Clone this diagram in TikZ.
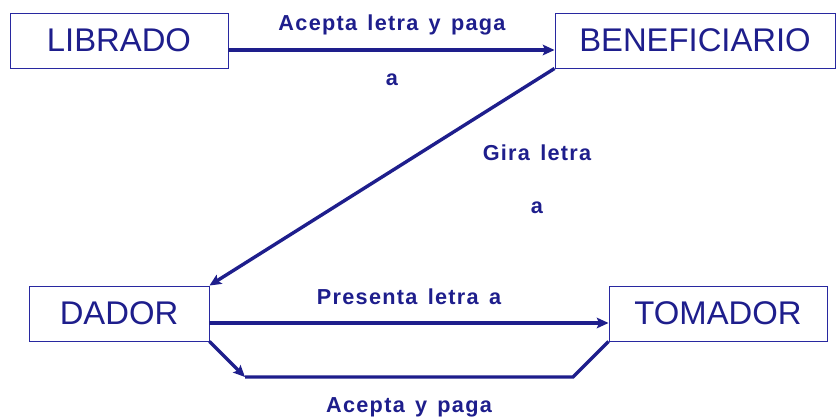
\documentclass[tikz,border=0pt]{standalone}
\usepackage{fontspec}
\setmainfont{Liberation Sans}
\newfontfamily\lblfont[LetterSpace=6,WordSpace=1.4]{Liberation Sans}
\usetikzlibrary{arrows.meta}
\definecolor{navy}{RGB}{30,30,140}
\definecolor{frame}{RGB}{40,40,160}
\tikzset{
  party/.style={draw=frame, line width=0.8pt, fill=white, text=navy,
    minimum height=1.65cm, inner sep=0pt,
    font=\fontsize{28}{30}\selectfont},
  flow/.style={draw=navy, line width=2.9pt, -{Stealth[length=10pt,width=9pt,inset=2pt]}},
  flowline/.style={draw=navy, line width=2.9pt},
  lbl/.style={text=navy, font=\lblfont\fontsize{18.5}{21}\selectfont\bfseries, inner sep=0pt}
}
\begin{document}
\begin{tikzpicture}[x=0.03cm,y=-0.03cm]
				\useasboundingbox (0,0) rectangle (836,419);
				% parties
				\node[party, minimum width=6.54cm] (librado) at (119,40.5) {LIBRADO};
				\node[party, minimum width=8.4cm] (benef) at (695,40.5) {BENEFICIARIO};
				\node[party, minimum width=5.4cm] (dador) at (119,313.5) {DADOR};
				\node[party, minimum width=6.54cm] (tomador) at (718,313.5) {TOMADOR};
				
				% corners of the return path
				\coordinate (retA) at (573,377);
				\coordinate (retB) at (245,377);
				
				% arrows
				\draw[flow] (librado.east |- 0,50) -- (benef.west |- 0,50);
				\draw[flow] (benef.south west) -- (dador.north east);
				\draw[flow] (dador.east |- 0,323) -- (tomador.west |- 0,323);
				\draw[flowline] (tomador.south west) -- (retA) -- (retB);
				\draw[flow] (dador.south east) -- (retB);
				
				% labels
				\node[lbl] (l1) at (392,25) {Acepta letra y paga};
				\node[lbl] (l1a) at (392,80) {a};
				\node[lbl] (l2) at (537,153) {Gira letra};
				\node[lbl] (l2a) at (537,208) {a};
				\node[lbl] (l3) at (409,297) {Presenta letra a};
				\node[lbl] (l4) at (409,407) {Acepta y paga};
\end{tikzpicture}
\end{document}
